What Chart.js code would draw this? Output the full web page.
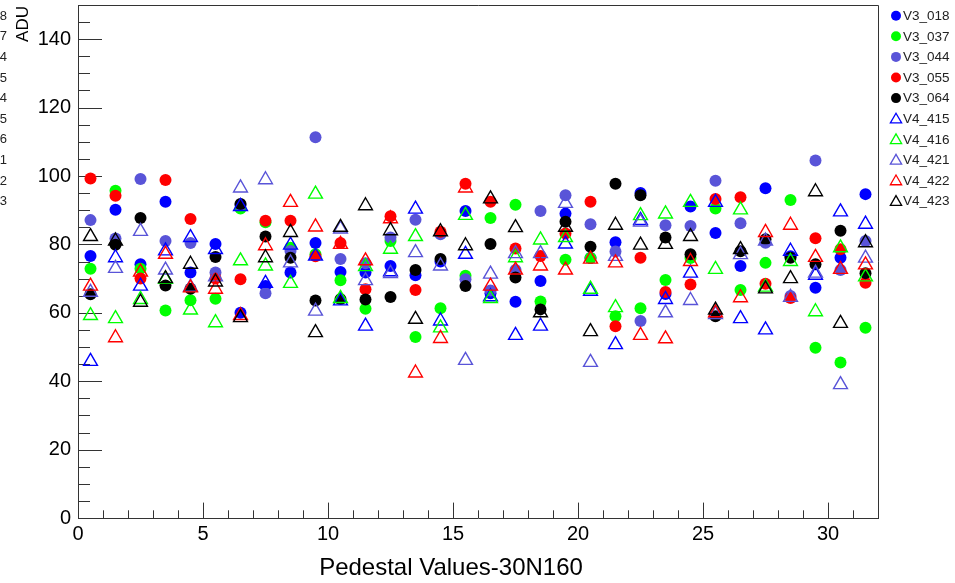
<!DOCTYPE html>
<html>
<head>
<meta charset="utf-8">
<title>Pedestal Values-30N160</title>
<script src="https://cdn.jsdelivr.net/npm/chart.js@4.4.1/dist/chart.umd.min.js"></script>
<style>
html, body { margin: 0; padding: 0; background: #fff; }
#wrap { width: 955px; height: 583px; position: relative; }
</style>
</head>
<body>
<div id="wrap"><canvas id="pedestals" width="955" height="583"></canvas></div>
<script>
// channel bin centres
const channels = [0.5, 1.5, 2.5, 3.5, 4.5, 5.5, 6.5, 7.5, 8.5, 9.5, 10.5, 11.5, 12.5, 13.5, 14.5, 15.5,
                  16.5, 17.5, 18.5, 19.5, 20.5, 21.5, 22.5, 23.5, 24.5, 25.5, 26.5, 27.5, 28.5, 29.5, 30.5, 31.5];

// pedestal per channel (ADU)
const V3_018 = [76.6, 90.1, 74.2, 92.5, 71.8, 80.1, 60.0, 67.8, 71.8, 80.4, 71.9, 71.8, 73.7, 71.0, 75.0, 89.8,
                65.7, 63.2, 69.3, 89.0, 76.0, 80.6, 95.0, 65.5, 91.1, 83.3, 73.7, 96.4, 76.5, 67.3, 76.1, 94.7];
const V3_037 = [72.9, 95.7, 72.9, 60.7, 63.7, 64.1, 90.5, 86.5, 79.0, 77.1, 69.5, 61.2, 81.0, 52.9, 61.3, 70.8,
                87.7, 91.6, 63.3, 75.5, 76.0, 59.0, 61.3, 69.6, 76.0, 90.5, 66.7, 74.6, 93.0, 49.8, 45.5, 55.6];
const V3_044 = [87.1, 81.7, 99.1, 81.0, 80.4, 71.8, 91.5, 65.7, 78.1, 111.3, 75.7, 74.5, 82.0, 87.2, 83.0, 69.8,
                66.5, 72.5, 89.8, 94.4, 85.9, 77.9, 57.6, 85.6, 85.4, 98.6, 86.2, 80.5, 64.9, 104.5, 72.5, 81.0];
const V3_055 = [99.3, 94.2, 70.0, 98.8, 87.4, 70.0, 69.8, 86.9, 86.9, 76.5, 80.4, 66.9, 88.2, 66.7, 83.7, 97.7,
                92.5, 78.8, 76.6, 83.2, 92.5, 56.1, 76.1, 66.1, 68.3, 93.3, 93.8, 68.5, 64.3, 81.8, 78.6, 68.8];
const V3_064 = [65.4, 79.9, 87.7, 68.0, 67.0, 76.3, 91.8, 82.3, 76.1, 63.6, 64.0, 63.9, 64.6, 72.5, 75.7, 67.8,
                80.1, 70.3, 61.0, 86.6, 79.3, 97.7, 94.4, 82.0, 77.1, 59.0, 78.0, 81.5, 76.1, 74.2, 84.0, 71.6];
const V4_415 = [45.8, 76.1, 67.8, 78.1, 82.0, 78.5, 91.1, 68.6, 79.8, 76.6, 63.5, 56.1, 72.0, 90.3, 57.6, 77.1,
                64.7, 53.4, 56.1, 80.1, 66.3, 50.7, 87.0, 63.9, 71.6, 92.3, 58.3, 55.0, 78.0, 71.0, 89.5, 85.9];
const V4_416 = [59.2, 58.3, 63.9, 69.8, 60.8, 57.1, 75.2, 73.7, 68.6, 94.7, 64.2, 73.5, 78.6, 82.3, 55.6, 88.5,
                64.2, 76.1, 81.3, 82.0, 66.9, 61.5, 88.4, 88.9, 92.3, 72.7, 90.1, 67.5, 75.0, 60.3, 79.0, 70.5];
const V4_421 = [66.0, 73.0, 83.8, 72.5, 67.5, 70.5, 96.5, 98.9, 74.6, 60.5, 84.5, 69.4, 71.5, 77.6, 73.7, 46.1,
                71.3, 77.3, 77.3, 92.0, 45.5, 76.5, 86.5, 60.0, 63.6, 59.5, 77.0, 81.0, 64.5, 71.6, 39.0, 76.0];
const V4_422 = [67.8, 52.7, 71.9, 77.1, 67.3, 66.9, 59.2, 79.6, 92.3, 85.1, 80.0, 75.2, 87.5, 42.4, 52.5, 96.5,
                67.8, 72.5, 73.7, 72.5, 75.7, 74.6, 53.4, 52.4, 75.0, 60.0, 64.4, 83.5, 85.6, 76.2, 72.7, 74.0];
const V4_423 = [82.3, 81.0, 63.1, 70.0, 74.2, 69.0, 58.6, 76.1, 83.5, 54.2, 85.0, 91.3, 84.0, 58.1, 83.7, 79.6,
                93.3, 84.9, 60.0, 85.0, 54.5, 85.6, 79.8, 80.0, 82.3, 60.8, 78.5, 67.0, 70.0, 95.4, 56.9, 80.5];

const seriesNames = ['V3_018', 'V3_037', 'V3_044', 'V3_055', 'V3_064', 'V4_415', 'V4_416', 'V4_421', 'V4_422', 'V4_423'];
const seriesValues = [V3_018, V3_037, V3_044, V3_055, V3_064, V4_415, V4_416, V4_421, V4_422, V4_423];

// leftover labels peeking in from the left edge
const edgeDigits = ['8', '7', '4', '5', '4', '5', '6', '1', '2', '3'];

const xTitle = 'Pedestal Values-30N160';
const yTitle = 'ADU';

const FONT = '"Liberation Sans", Arial, Helvetica, sans-serif';
const AXIS = '#333333';
const colours = ['#0000ff', '#00ff00', '#5954d8', '#ff0000', '#000000'];

function buildDatasets() {
    return seriesNames.map((name, i) => {
        const isTri = name.startsWith('V4');
        const col = colours[i % 5];
        return {
            label: name,
            data: channels.map((c, k) => ({ x: c, y: seriesValues[i][k] })),
            pointStyle: isTri ? 'triangle' : 'circle',
            pointRadius: isTri ? 8 : 6,
            pointHoverRadius: isTri ? 8 : 6,
            pointBackgroundColor: isTri ? 'rgba(0,0,0,0)' : col,
            pointBorderColor: col,
            pointBorderWidth: isTri ? 1.4 : 0,
            showLine: false,
            order: seriesNames.length - i
        };
    });
}

// inner ticks, frame, legend and axis titles
const rootStyle = {
    id: 'rootStyle',
    beforeDatasetsDraw(chart) {
        const ctx = chart.ctx;
        const a = chart.chartArea;
        const xs = chart.scales.x;
        const ys = chart.scales.y;
        ctx.save();
        ctx.strokeStyle = AXIS;
        ctx.lineWidth = 1;
        ctx.beginPath();
        for (let v = xs.min; v <= xs.max; v++) {
            const px = Math.round(xs.getPixelForValue(v)) + 0.5;
            const len = v % 5 === 0 ? 15.4 : 7.7;
            ctx.moveTo(px, a.bottom);
            ctx.lineTo(px, a.bottom - len);
        }
        for (let v = ys.min; v <= ys.max; v += 5) {
            const py = Math.round(ys.getPixelForValue(v)) + 0.5;
            const len = v % 20 === 0 ? 24 : 12;
            ctx.moveTo(a.left, py);
            ctx.lineTo(a.left + len, py);
        }
        // top and right frame
        ctx.moveTo(a.left, a.top + 0.5);
        ctx.lineTo(a.right + 0.5, a.top + 0.5);
        ctx.lineTo(a.right + 0.5, a.bottom);
        ctx.stroke();
        ctx.restore();
    },
    afterDraw(chart) {
        const ctx = chart.ctx;
        ctx.save();

        // axis titles
        ctx.fillStyle = '#000';
        ctx.font = '24px ' + FONT;
        ctx.textAlign = 'center';
        ctx.textBaseline = 'alphabetic';
        ctx.fillText(xTitle, 451, 575);

        ctx.translate(28, 6);
        ctx.rotate(-Math.PI / 2);
        ctx.font = '17px ' + FONT;
        ctx.textAlign = 'right';
        ctx.fillText(yTitle, 0, 0);
        ctx.setTransform(1, 0, 0, 1, 0, 0);

        // legend
        const rowY = k => 15.7 + k * 20.6;
        ctx.font = '13.5px ' + FONT;
        ctx.textAlign = 'left';
        ctx.textBaseline = 'middle';
        chart.data.datasets.forEach((ds, k) => {
            const y = rowY(k);
            const tri = ds.pointStyle === 'triangle';
            ctx.fillStyle = ds.pointBackgroundColor;
            ctx.strokeStyle = ds.pointBorderColor;
            ctx.lineWidth = tri ? 1.3 : 0;
            Chart.helpers.drawPoint(ctx, {
                pointStyle: ds.pointStyle,
                radius: tri ? 6.5 : 5,
                borderWidth: tri ? 1.3 : 0,
                rotation: 0
            }, 896, tri ? y + 1 : y);
            ctx.fillStyle = '#222';
            ctx.fillText(ds.label, 903, y + 0.5);
        });

        // cut-off labels on the far left
        ctx.font = '13px ' + FONT;
        ctx.textAlign = 'right';
        ctx.fillStyle = '#222';
        edgeDigits.forEach((d, k) => ctx.fillText(d, 7, rowY(k) + 0.5));
        ctx.restore();
    }
};

function initializePedestalChart() {
    const ctx = document.getElementById('pedestals').getContext('2d');
    new Chart(ctx, {
        type: 'scatter',
        data: { datasets: buildDatasets() },
        options: {
            responsive: false,
            animation: false,
            devicePixelRatio: 1,
            layout: {
                autoPadding: false,
                padding: { left: 0, top: 5, right: 77, bottom: 0 }
            },
            plugins: {
                legend: { display: false },
                tooltip: { enabled: false }
            },
            scales: {
                x: {
                    type: 'linear',
                    position: 'bottom',
                    min: 0,
                    max: 32,
                    grid: { display: false, drawTicks: false },
                    border: { display: true, color: AXIS, width: 1 },
                    ticks: {
                        stepSize: 5,
                        padding: 4,
                        maxRotation: 0,
                        color: '#000',
                        font: { family: FONT, size: 20 }
                    },
                    afterBuildTicks: s => { s.ticks = s.ticks.filter(t => t.value % 5 === 0); },
                    afterFit: s => {
                        s.height = 65;
                        s.paddingLeft = 0;
                        s.paddingRight = 0;
                    }
                },
                y: {
                    type: 'linear',
                    min: 0,
                    max: 150,
                    grid: { display: false, drawTicks: false },
                    border: { display: true, color: AXIS, width: 1 },
                    ticks: {
                        stepSize: 20,
                        padding: 7,
                        color: '#000',
                        font: { family: FONT, size: 20 }
                    },
                    afterBuildTicks: s => { s.ticks = s.ticks.filter(t => t.value % 20 === 0); },
                    afterFit: s => {
                        s.width = 78;
                        s.paddingTop = 0;
                        s.paddingBottom = 0;
                    }
                }
            }
        },
        plugins: [rootStyle]
    });
}

document.addEventListener('DOMContentLoaded', initializePedestalChart);
</script>
</body>
</html>
